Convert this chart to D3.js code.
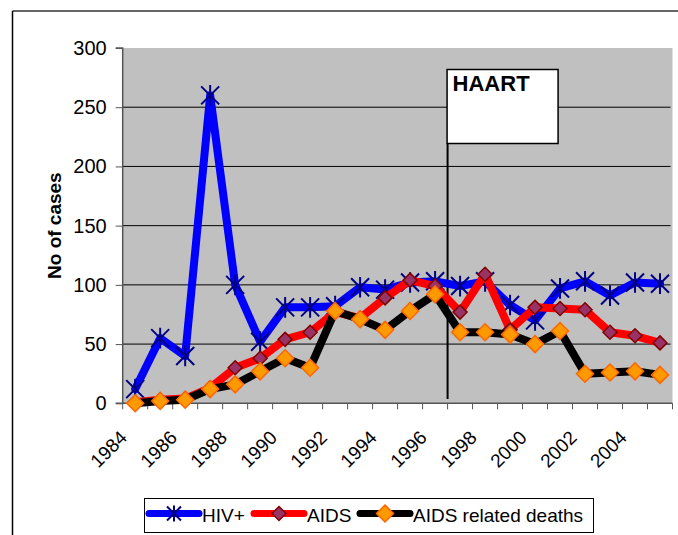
<!DOCTYPE html>
<html>
<head>
<meta charset="utf-8">
<script src="https://cdn.jsdelivr.net/npm/d3@7"></script>
<style>
  html, body { margin: 0; padding: 0; background: #fff; }
  svg { display: block; font-family: "Liberation Sans", Arial, sans-serif; }
</style>
</head>
<body>
<svg id="chart" width="678" height="535"></svg>
<script>
const years = [1984,1985,1986,1987,1988,1989,1990,1991,1992,1993,1994,1995,1996,1997,1998,1999,2000,2001,2002,2003,2004,2005];
const hiv    = [12,55,40,260,100,52,81,81,82,98,96,102,103,99,103,83,70,97,103,91,102,101];
const aids   = [1,3,4,13,30,38,54,60,77,72,89,104,99,77,109,62,81,80,79,60,57,51];
const deaths = [0,2,3,12,16,27,38,30,78,71,62,78,92,60,60,58,50,61,25,26,27,24];
const yTicks = [0,50,100,150,200,250,300];
const xTickLabels = [1984,1986,1988,1990,1992,1994,1996,1998,2000,2002,2004];
const haartYear = 1996.5;

const svg = d3.select("#chart");
const L = 122.7, R = 672.5, T = 48, B = 403.3;

// outer frame (top and left visible)
svg.append("line").attr("x1",12.5).attr("x2",678).attr("y1",11).attr("y2",11).attr("stroke","#333").attr("stroke-width",1.5);
svg.append("line").attr("x1",12.5).attr("x2",12.5).attr("y1",11).attr("y2",535).attr("stroke","#000").attr("stroke-width",1.5);

const x = d3.scaleBand().domain(years).range([L, R]).paddingInner(0).paddingOuter(0);
const cx = d => x(d) + x.bandwidth()/2;
const xLin = d3.scaleLinear().domain([years[0]-0.5, years[years.length-1]+0.5]).range([L, R]);
const y = d3.scaleLinear().domain([0,300]).range([B, T]);

svg.append("rect").attr("x",L).attr("y",T).attr("width",R-L).attr("height",B-T).attr("fill","#C0C0C0");

// gridlines
svg.append("g").selectAll("line").data(yTicks.filter(v => v>0 && v<300)).join("line")
  .attr("x1",L).attr("x2",R-2).attr("y1",d=>y(d)).attr("y2",d=>y(d))
  .attr("stroke","#000").attr("stroke-width",1);

// y axis
const yAxis = d3.axisLeft(y).tickValues(yTicks).tickSize(7).tickPadding(9);
const gy = svg.append("g").attr("transform",`translate(${L},0)`).call(yAxis);
gy.select(".domain").attr("stroke","#555").attr("stroke-width",1.5).attr("d",`M-7,${T}H0V${B}`);
gy.selectAll(".tick line").attr("stroke","#555");
gy.selectAll("text").attr("font-size",20).attr("fill","#000").attr("font-family","Liberation Sans, Arial, sans-serif");

// x axis
const gx = svg.append("g").attr("transform",`translate(0,${B})`);
gx.append("line").attr("x1",L-7).attr("x2",R).attr("y1",0).attr("y2",0).attr("stroke","#555").attr("stroke-width",1.5);
const bounds = years.map(d => x(d)).concat([R]);
gx.selectAll("line.tk").data(bounds).join("line").attr("class","tk")
  .attr("x1",d=>d).attr("x2",d=>d).attr("y1",0).attr("y2",6).attr("stroke","#555");
gx.selectAll("text").data(xTickLabels).join("text")
  .attr("transform", d => `translate(${cx(d)-7},${35.5}) rotate(-45)`)
  .attr("text-anchor","end").attr("font-size",19).attr("fill","#000")
  .text(d => d);

// y title
svg.append("text").attr("transform",`translate(61,${(T+B)/2}) rotate(-90)`)
  .attr("text-anchor","middle").attr("font-size",19).attr("font-weight","bold").text("No of cases");

// HAART line and box
const hx = xLin(haartYear);
svg.append("line").attr("x1",hx).attr("x2",hx).attr("y1",143).attr("y2",399).attr("stroke","#000").attr("stroke-width",2);
svg.append("rect").attr("x",hx-0.5).attr("y",69.5).attr("width",111).attr("height",74).attr("fill","#fff").attr("stroke","#000").attr("stroke-width",1.5);
svg.append("text").attr("x",hx+5).attr("y",91).attr("font-size",22).attr("font-weight","bold").text("HAART");

const line = d3.line().x((d,i)=>cx(years[i])).y(d=>y(d));

function star(g, px, py, s){
  g.append("path")
    .attr("d",`M${px-s},${py-s}L${px+s},${py+s}M${px-s},${py+s}L${px+s},${py-s}M${px},${py-s*1.15}L${px},${py+s*1.15}`)
    .attr("stroke","#000080").attr("stroke-width",2).attr("fill","none");
}
function diamond(g, px, py, s, fill, stroke){
  g.append("path").attr("d",`M${px},${py-s}L${px+s},${py}L${px},${py+s}L${px-s},${py}Z`)
    .attr("fill",fill).attr("stroke",stroke).attr("stroke-width",1.5);
}

const series = [
  {name:"HIV+", data:hiv, color:"#0000FF", marker:"star"},
  {name:"AIDS", data:aids, color:"#FF0000", marker:"d1"},
  {name:"AIDS related deaths", data:deaths, color:"#000000", marker:"d2"}
];

series.forEach(s => {
  const g = svg.append("g");
  g.append("path").attr("d", line(s.data)).attr("fill","none").attr("stroke",s.color)
    .attr("stroke-width",8).attr("stroke-linejoin","round").attr("stroke-linecap","round");
  s.data.forEach((v,i) => {
    const px = cx(years[i]), py = y(v);
    if (s.marker==="star") star(g, px, py, 9);
    else if (s.marker==="d1") diamond(g, px, py, 7, "#993366", "#800000");
    else diamond(g, px, py, 8.5, "#FF9900", "#FF6600");
  });
});

// legend
const lg = svg.append("g");
lg.append("rect").attr("x",144.5).attr("y",498.5).attr("width",449).attr("height",34).attr("fill","#fff").attr("stroke","#000").attr("stroke-width",1);
const items = [
  {x0:149, x1:199, tx:202, m:174},
  {x0:254, x1:304, tx:307, m:279},
  {x0:360, x1:410, tx:413, m:385}
];
series.forEach((s,i) => {
  const it = items[i], ly = 513.5;
  lg.append("line").attr("x1",it.x0).attr("x2",it.x1).attr("y1",ly).attr("y2",ly)
    .attr("stroke",s.color).attr("stroke-width",7).attr("stroke-linecap","round");
  if (s.marker==="star") star(lg, it.m, ly, 7);
  else if (s.marker==="d1") diamond(lg, it.m, ly, 7, "#993366", "#800000");
  else diamond(lg, it.m, ly, 8.5, "#FF9900", "#FF6600");
  lg.append("text").attr("x",it.tx).attr("y",521.5).attr("font-size",19).text(s.name);
});
</script>
</body>
</html>
